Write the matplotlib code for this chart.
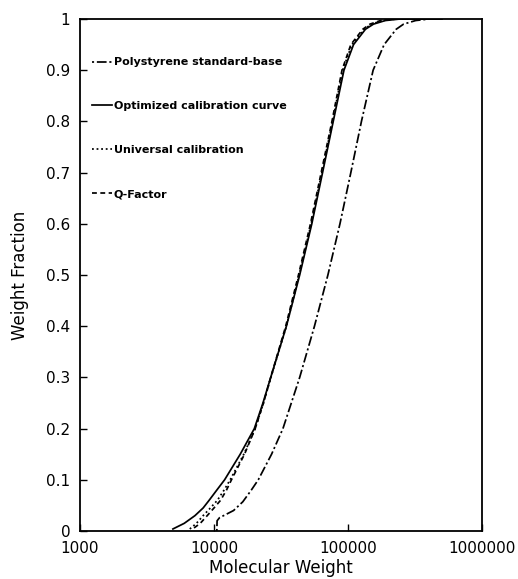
import matplotlib
matplotlib.use('Agg')
import matplotlib.pyplot as plt
import numpy as np

plt.rcParams['lines.scale_dashes'] = False

# weight fraction (y) and molecular weight (x)
frac_ps = [0, 0.02, 0.026, 0.031, 0.04, 0.057, 0.08, 0.1, 0.15, 0.2, 0.3, 0.4, 0.5, 0.6, 0.7, 0.8,
           0.9, 0.95, 0.98, 0.99, 0.997, 1, 1]
mw_ps = [10500, 10550, 11000, 12000, 14000, 16400, 19000, 21400, 26900, 32700, 43600, 56200,
         70800, 87100, 105000, 126000, 154000, 186000, 229000, 260000, 320000, 407000, 525000]

frac_opt = [0.004, 0.015, 0.03, 0.045, 0.06, 0.08, 0.1, 0.15, 0.2, 0.25, 0.3, 0.4, 0.5, 0.6, 0.7,
            0.8, 0.9, 0.95, 0.98, 0.99, 0.997, 1, 1]
mw_opt = [4940, 6000, 7210, 8300, 9200, 10500, 12000, 15700, 20000, 23200, 26500, 34700, 43600,
          53700, 64600, 77600, 93300, 110000, 135000, 155000, 190000, 245000, 500000]

frac_uni = [0.004, 0.015, 0.03, 0.045, 0.06, 0.08, 0.1, 0.15, 0.2, 0.25, 0.3, 0.4, 0.5, 0.6, 0.7,
            0.8, 0.9, 0.95, 0.98, 0.99, 0.997, 1, 1]
mw_uni = [6600, 7400, 8300, 9400, 10600, 11900, 13200, 16700, 20300, 23400, 26600, 34700, 43200,
          53100, 63800, 76700, 91200, 107000, 132000, 150000, 180000, 229000, 500000]

frac_q = [0.006, 0.015, 0.03, 0.045, 0.06, 0.08, 0.1, 0.15, 0.2, 0.25, 0.3, 0.4, 0.5, 0.6, 0.7,
          0.8, 0.9, 0.95, 0.98, 0.99, 0.997, 1, 1]
mw_q = [7100, 7900, 8900, 10000, 11200, 12400, 13500, 16900, 20300, 23400, 26500, 34300, 42700,
        52500, 63100, 75900, 90200, 105000, 129000, 146000, 175000, 224000, 500000]

fig = plt.figure(figsize=(5.18, 5.79), dpi=100)
ax = fig.add_axes([0.1544, 0.0829, 0.7761, 0.8843])

lw = 1.25
ax.plot(mw_ps, frac_ps, color='black', lw=lw, linestyle=(9, (7, 2, 1.5, 2)), label='Polystyrene standard-base')
ax.plot(mw_opt, frac_opt, color='black', lw=lw, linestyle='-', label='Optimized calibration curve')
ax.plot(mw_uni, frac_uni, color='black', lw=lw, linestyle=(0, (1.3, 2)), label='Universal calibration')
ax.plot(mw_q, frac_q, color='black', lw=lw, linestyle=(0, (3.5, 2.5)), label='Q-Factor')

ax.set_xscale('log')
ax.set_xlim(1000, 1000000)
ax.set_ylim(0, 1)
ax.set_yticks(np.arange(0, 1.01, 0.1))
ax.set_yticklabels(['0', '0.1', '0.2', '0.3', '0.4', '0.5', '0.6', '0.7', '0.8', '0.9', '1'])
ax.set_xticks([1000, 10000, 100000, 1000000])
ax.set_xticklabels(['1000', '10000', '100000', '1000000'])
ax.xaxis.set_minor_locator(matplotlib.ticker.NullLocator())
ax.tick_params(direction='in', length=5, width=1, labelsize=11, pad=7)

for s in ax.spines.values():
    s.set_linewidth(1.3)

ax.set_xlabel('Molecular Weight', fontsize=12, labelpad=2)
ax.set_ylabel('Weight Fraction', fontsize=12, labelpad=12)

leg = ax.legend(loc='upper left', bbox_to_anchor=(0.03, 0.925), frameon=False,
                handlelength=1.8, handletextpad=0.15, labelspacing=3.05,
                borderpad=0, borderaxespad=0, prop={'size': 8, 'weight': 'bold'})

fig.savefig('out.png', dpi=100)
